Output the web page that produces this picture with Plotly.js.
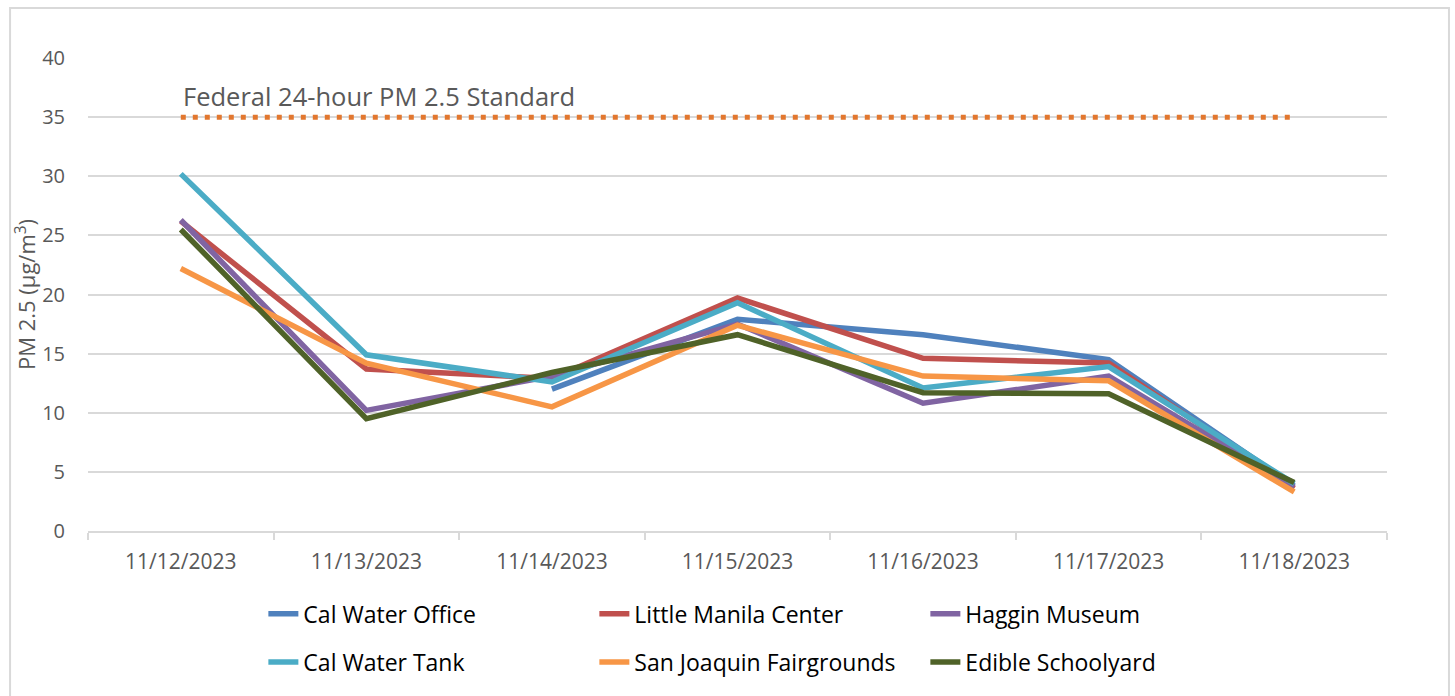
<!DOCTYPE html>
<html>
<head>
<meta charset="utf-8">
<script src="https://cdn.plot.ly/plotly-3.0.1.min.js"></script>
<style>html,body{margin:0;padding:0;background:#fff;}#chart{width:1455px;height:696px;}</style>
</head>
<body>
<div id="chart"></div>
<script>
const dates = ["11/12/2023","11/13/2023","11/14/2023","11/15/2023","11/16/2023","11/17/2023","11/18/2023"];
const calWaterOffice = [null, null, 12.0, 17.9, 16.6, 14.5, 3.8];
const littleManila = [26.2, 13.7, 12.9, 19.7, 14.6, 14.2, 3.6];
const hagginMuseum = [26.3, 10.2, 13.1, 17.5, 10.8, 13.1, 3.7];
const calWaterTank = [30.2, 14.9, 12.6, 19.3, 12.1, 13.9, 4.0];
const sanJoaquin = [22.2, 14.2, 10.5, 17.4, 13.1, 12.7, 3.3];
const edibleSchoolyard = [25.5, 9.5, 13.4, 16.6, 11.7, 11.6, 4.1];
const federalStandard = [35, 35, 35, 35, 35, 35, 35];
const yTicks = [0, 5, 10, 15, 20, 25, 30, 35, 40];

const FONT = "Open Sans, sans-serif";
function series(name, y, color, legend) {
  return {x: dates, y: y, name: name, type: "scatter", mode: "lines",
    line: {color: color, width: 5.5}, legend: legend, connectgaps: false};
}
const traces = [
  {x: dates, y: federalStandard, type: "scatter", mode: "lines", showlegend: false,
   line: {color: "#E2772F", width: 5, dash: "5px,7px"}, hoverinfo: "skip"},
  series("Cal Water Office", calWaterOffice, "#4F81BD", "legend"),
  series("Little Manila Center", littleManila, "#C0504D", "legend"),
  series("Haggin Museum", hagginMuseum, "#8064A2", "legend"),
  series("Cal Water Tank", calWaterTank, "#4BACC6", "legend2"),
  series("San Joaquin Fairgrounds", sanJoaquin, "#F79646", "legend2"),
  series("Edible Schoolyard", edibleSchoolyard, "#4F6228", "legend2")
];
const legendBase = {orientation: "h", xanchor: "left", yanchor: "middle", x: 0.135,
  font: {family: FONT, size: 23, color: "#000"}, entrywidth: 286, entrywidthmode: "pixels",
  bgcolor: "rgba(0,0,0,0)", itemclick: false};
const layout = {
  width: 1455, height: 696,
  margin: {l: 88, r: 68, t: 58, b: 165},
  paper_bgcolor: "#fff", plot_bgcolor: "#fff",
  font: {family: FONT, color: "#595959"},
  xaxis: {type: "category", range: [-0.5, 6.5], showgrid: false, showline: true,
    linecolor: "#D9D9D9", linewidth: 2, ticks: "outside", tickson: "boundaries",
    ticklen: 7, tickcolor: "#D9D9D9", tickwidth: 2, ticklabelstandoff: 11,
    tickfont: {family: FONT, size: 21, color: "#595959"}, fixedrange: true},
  yaxis: {range: [0, 40], tickvals: yTicks, showgrid: true, gridcolor: "#D9D9D9", gridwidth: 2,
    zeroline: false, showline: false, ticks: "", ticklabelstandoff: 22,
    tickfont: {family: FONT, size: 20, color: "#595959"},
    title: {text: "PM 2.5 (μg/m<sup>3</sup>)", font: {family: FONT, size: 22, color: "#595959"}, standoff: 0},
    fixedrange: true},
  legend: Object.assign({}, legendBase, {y: -0.175}),
  legend2: Object.assign({}, legendBase, {y: -0.277}),
  annotations: [{x: 0, y: 35, xref: "x", yref: "y", xanchor: "left", yanchor: "bottom",
    text: "Federal 24-hour PM 2.5 Standard", showarrow: false, yshift: 2,
    font: {family: FONT, size: 25.5, color: "#595959"}}],
  shapes: [{type: "rect", xref: "paper", yref: "paper", x0: -0.0600, x1: 1.0477, y0: -0.45, y1: 1.1057,
    line: {color: "#D9D9D9", width: 2}, fillcolor: "rgba(0,0,0,0)", layer: "below"}],
  showlegend: true
};
Plotly.newPlot("chart", traces, layout, {displayModeBar: false, staticPlot: true});
</script>
</body>
</html>
